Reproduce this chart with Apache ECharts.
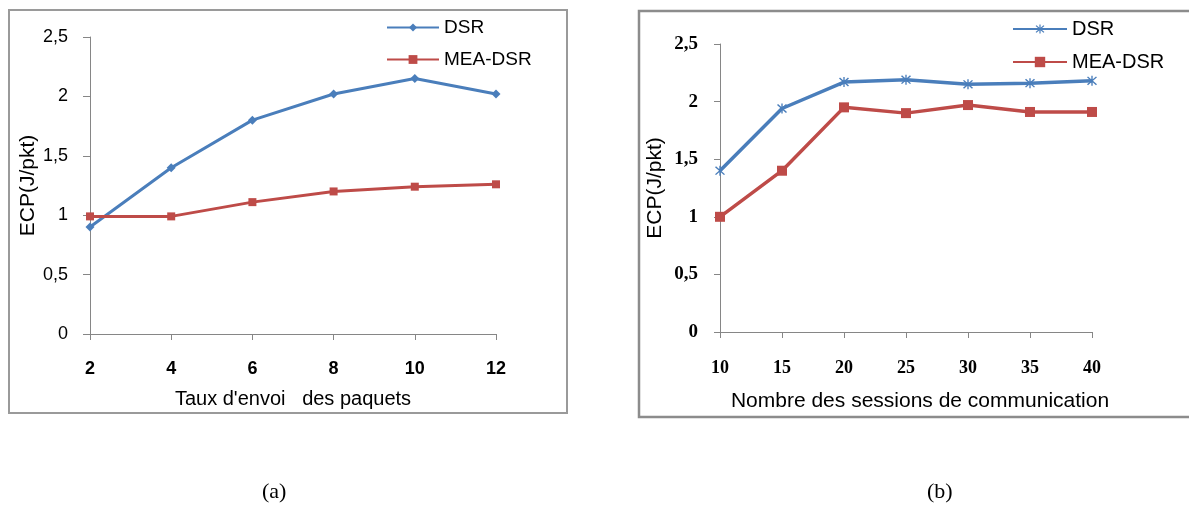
<!DOCTYPE html>
<html>
<head>
<meta charset="utf-8">
<script src="https://cdn.jsdelivr.net/npm/echarts@6/dist/echarts.min.js"></script>
<style>
html,body{margin:0;padding:0;background:#fff;}
#c{width:1189px;height:506px;}
</style>
</head>
<body>
<div id="c"></div>
<script>
// Chart (a): ECP vs packet sending rate
const xA = [2, 4, 6, 8, 10, 12];
const dsrA = [0.9, 1.4, 1.8, 2.02, 2.15, 2.02];
const meaA = [0.99, 0.99, 1.11, 1.2, 1.24, 1.26];
// Chart (b): ECP vs number of communication sessions
const xB = [10, 15, 20, 25, 30, 35, 40];
const dsrB = [1.4, 1.94, 2.17, 2.19, 2.15, 2.16, 2.18];
const meaB = [1.0, 1.4, 1.95, 1.9, 1.97, 1.91, 1.91];
const seriesNames = ['DSR', 'MEA-DSR'];
const yTicks = ['0', '0,5', '1', '1,5', '2', '2,5'];
const xTitleA = "Taux d'envoi   des paquets";
const xTitleB = 'Nombre des sessions de communication';
const yTitle = 'ECP(J/pkt)';
const captions = ['(a)', '(b)'];

const BLUE = '#4a7ebb', RED = '#be4b48', AX = '#868686';
const asterisk = 'path://M4.4 0H5.6V10H4.4Z M0.6 1.5L1.5 0.6L9.4 8.5L8.5 9.4Z M8.5 0.6L9.4 1.5L1.5 9.4L0.6 8.5Z';

function pairs(xs, ys) { return xs.map((x, i) => [x, ys[i]]); }
function yFmt(v) { const i = Math.round(v / 0.5); return yTicks[i] !== undefined ? yTicks[i] : String(v).replace('.', ','); }

const chart = echarts.init(document.getElementById('c'));
chart.setOption({
  backgroundColor: '#fff',
  animation: false,
  grid: [
    { left: 90, right: 693, top: 37, bottom: 172 },
    { left: 720, right: 97, top: 44, bottom: 174 }
  ],
  xAxis: [
    {
      gridIndex: 0, type: 'value', min: 2, max: 12, interval: 2,
      name: xTitleA, nameLocation: 'middle', nameGap: 55,
      nameTextStyle: { fontFamily: 'Liberation Sans', fontSize: 20, color: '#000' },
      axisLine: { lineStyle: { color: AX, width: 1 } },
      axisTick: { show: true, length: 6, lineStyle: { color: AX } },
      splitLine: { show: false },
      axisLabel: { margin: 26, fontFamily: 'Liberation Sans', fontWeight: 'bold', fontSize: 18, color: '#000' }
    },
    {
      gridIndex: 1, type: 'value', min: 10, max: 40, interval: 5,
      name: xTitleB, nameLocation: 'middle', nameGap: 59,
      nameTextStyle: { fontFamily: 'Liberation Sans', fontSize: 21, color: '#000', padding: [0, 0, 0, 28] },
      axisLine: { lineStyle: { color: AX, width: 1 } },
      axisTick: { show: true, length: 6, lineStyle: { color: AX } },
      splitLine: { show: false },
      axisLabel: { margin: 27, fontFamily: 'Liberation Serif', fontWeight: 'bold', fontSize: 18, color: '#000' }
    }
  ],
  yAxis: [
    {
      gridIndex: 0, type: 'value', min: 0, max: 2.5, interval: 0.5,
      name: yTitle, nameLocation: 'middle', nameGap: 51,
      nameTextStyle: { fontFamily: 'Liberation Sans', fontSize: 21, color: '#000' },
      axisLine: { show: true, lineStyle: { color: AX, width: 1 } },
      axisTick: { show: true, length: 7, lineStyle: { color: AX } },
      splitLine: { show: false },
      axisLabel: { margin: 22, fontFamily: 'Liberation Sans', fontSize: 18, color: '#000', formatter: yFmt }
    },
    {
      gridIndex: 1, type: 'value', min: 0, max: 2.5, interval: 0.5,
      name: yTitle, nameLocation: 'middle', nameGap: 54,
      nameTextStyle: { fontFamily: 'Liberation Sans', fontSize: 21, color: '#000' },
      axisLine: { show: true, lineStyle: { color: AX, width: 1 } },
      axisTick: { show: true, length: 6, lineStyle: { color: AX } },
      splitLine: { show: false },
      axisLabel: { margin: 22, fontFamily: 'Liberation Serif', fontWeight: 'bold', fontSize: 19, color: '#000', formatter: yFmt }
    }
  ],
  legend: [
    { data: [seriesNames[0]], orient: 'vertical', left: 386, top: 18, padding: 0, itemWidth: 52, itemHeight: 10, itemGap: 0,
      textStyle: { fontFamily: 'Liberation Sans', fontSize: 19, color: '#000' } },
    { data: [seriesNames[1]], orient: 'vertical', left: 386, top: 50, padding: 0, itemWidth: 52, itemHeight: 11, itemGap: 0,
      textStyle: { fontFamily: 'Liberation Sans', fontSize: 19, color: '#000' } },
    { data: [seriesNames[0] + ' (b)'], orient: 'vertical', left: 1012, top: 19, padding: 0, itemWidth: 54, itemHeight: 11, itemGap: 0,
      formatter: n => n.replace(' (b)', ''),
      textStyle: { fontFamily: 'Liberation Sans', fontSize: 20, color: '#000' } },
    { data: [seriesNames[1] + ' (b)'], orient: 'vertical', left: 1012, top: 52, padding: 0, itemWidth: 54, itemHeight: 13, itemGap: 0,
      formatter: n => n.replace(' (b)', ''),
      textStyle: { fontFamily: 'Liberation Sans', fontSize: 20, color: '#000' } }
  ],
  series: [
    { name: seriesNames[0], type: 'line', xAxisIndex: 0, yAxisIndex: 0, data: pairs(xA, dsrA),
      symbol: 'diamond', symbolSize: 9, color: BLUE, lineStyle: { color: BLUE, width: 3 }, itemStyle: { color: BLUE } },
    { name: seriesNames[1], type: 'line', xAxisIndex: 0, yAxisIndex: 0, data: pairs(xA, meaA),
      symbol: 'rect', symbolSize: 8, color: RED, lineStyle: { color: RED, width: 3 }, itemStyle: { color: RED } },
    { name: seriesNames[0] + ' (b)', type: 'line', xAxisIndex: 1, yAxisIndex: 1, data: pairs(xB, dsrB),
      symbol: asterisk, symbolSize: 10, color: BLUE, lineStyle: { color: BLUE, width: 3.5 }, itemStyle: { color: BLUE } },
    { name: seriesNames[1] + ' (b)', type: 'line', xAxisIndex: 1, yAxisIndex: 1, data: pairs(xB, meaB),
      symbol: 'rect', symbolSize: 10, color: RED, lineStyle: { color: RED, width: 3.5 }, itemStyle: { color: RED } }
  ],
  graphic: [
    { type: 'rect', shape: { x: 9, y: 10, width: 558, height: 403 }, style: { fill: 'none', stroke: '#9a9a9a', lineWidth: 2 }, silent: true },
    { type: 'rect', shape: { x: 639, y: 11, width: 580, height: 406 }, style: { fill: 'none', stroke: '#8c8c8c', lineWidth: 2.5 }, silent: true },
    { type: 'text', left: 262, top: 481, style: { text: captions[0], font: '22px "Liberation Serif"', fill: '#000' } },
    { type: 'text', left: 927, top: 481, style: { text: captions[1], font: '22px "Liberation Serif"', fill: '#000' } }
  ]
});
</script>
</body>
</html>
